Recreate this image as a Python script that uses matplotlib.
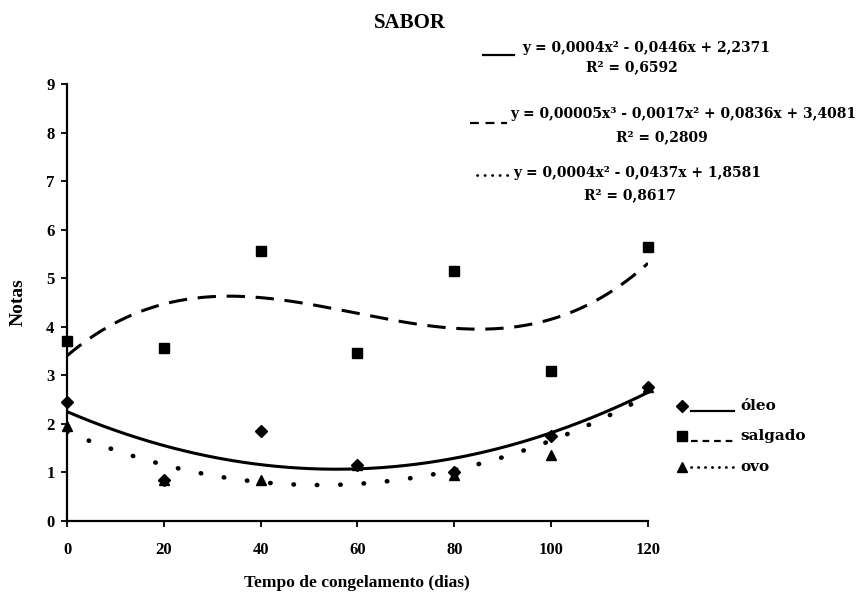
import numpy as np
import matplotlib
matplotlib.use("Agg")
import matplotlib.pyplot as plt
from matplotlib.lines import Line2D

plt.rcParams['font.family'] = ['Liberation Serif', 'DejaVu Serif']
plt.rcParams['font.weight'] = 'bold'
WIDE = ['DejaVu Serif', 'Liberation Serif']

dias = [0, 20, 40, 60, 80, 100, 120]
oleo = [2.45, 0.85, 1.85, 1.15, 1.0, 1.75, 2.75]
salgado = [3.7, 3.57, 5.56, 3.47, 5.15, 3.08, 5.65]
ovo = [1.95, 0.85, 0.85, 1.15, 0.95, 1.35, 2.75]

series_names = ['óleo', 'salgado', 'ovo']
fit_degree = [2, 3, 2]
equations = ['y = 0,0004x² - 0,0446x + 2,2371',
             'y = 0,00005x³ - 0,0017x² + 0,0836x + 3,4081',
             'y = 0,0004x² - 0,0437x + 1,8581']
r2_texts = ['R² = 0,6592', 'R² = 0,2809', 'R² = 0,8617']

yticks = list(range(0, 10))
xticks = [0, 20, 40, 60, 80, 100, 120]

W, H = 862, 596
fig = plt.figure(figsize=(W / 100, H / 100), dpi=100)
ax = fig.add_axes([67 / W, 1 - 521 / H, (648 - 67) / W, (521 - 84) / H])

markers = ['D', 's', '^']
msizes = [6.5, 6.5, 7.5]
lstyles = ['-', (0, (6, 3.5)), (0, (0.1, 5.0))]
caps = ['butt', 'butt', 'round']
lwidths = [2.2, 2.2, 3.3]

xs = np.linspace(0, 120, 300)
for vals, deg, mk, ms, ls, lw, cap in zip([oleo, salgado, ovo], fit_degree,
                                          markers, msizes, lstyles, lwidths, caps):
    coef = np.polyfit(dias, vals, deg)
    ax.plot(xs, np.polyval(coef, xs), color='black', linestyle=ls, linewidth=lw,
            solid_capstyle='butt', dash_capstyle=cap, zorder=2)
    ax.plot(dias, vals, linestyle='none', marker=mk, markersize=ms, color='black',
            clip_on=False, zorder=3)

ax.set_xlim(0, 120)
ax.set_ylim(0, 9)
ax.set_xticks(xticks)
ax.set_yticks(yticks)
for s in ['top', 'right']:
    ax.spines[s].set_visible(False)
for s in ['left', 'bottom']:
    ax.spines[s].set_linewidth(1.6)
ax.tick_params(direction='out', length=4, width=1.3, labelsize=12)
ax.tick_params(axis='x', pad=11)
ax.tick_params(axis='y', pad=5)
for lab in ax.get_xticklabels() + ax.get_yticklabels():
    lab.set_fontweight('bold')

fig.text(18 / W, 1 - 302 / H, 'Notas', rotation=90, ha='center', va='center',
         fontsize=14, fontweight='bold')
fig.text(357 / W, 1 - 583 / H, 'Tempo de congelamento (dias)', ha='center', va='center',
         fontsize=12.5, fontweight='bold')
fig.text(410 / W, 1 - 23 / H, 'SABOR', ha='center', va='center', fontsize=15, fontweight='bold')

# legend (marker, line sample, label)
leg_y = [406, 436, 467]
leg_ls = ['-', (0, (3, 2.2)), (0, (0.1, 2.4))]
for i in range(3):
    yy = 1 - leg_y[i] / H
    fig.add_artist(Line2D([682 / W], [yy], marker=markers[i], markersize=msizes[i],
                          color='black', linestyle='none', transform=fig.transFigure))
    fig.add_artist(Line2D([691 / W, 734 / W], [yy - 5 / H if i < 2 else yy, yy - 5 / H if i < 2 else yy],
                          color='black', linestyle=leg_ls[i], linewidth=1.6 if i < 2 else 2.0,
                          dash_capstyle=caps[i], transform=fig.transFigure))
    fig.text(740 / W, yy, series_names[i], ha='left', va='center',
             family=WIDE, fontsize=11, fontweight='bold')

# equation block
eq_y = [48, 114, 173]
r2_y = [67, 137, 195]
r2_x = [632, 662, 630]
sample_x = [(483, 514), (470, 507), (477, 511)]
sample_dy = [7, 9, 2]
text_x = [522, 510, 513]
sample_ls = ['-', (0, (4, 3)), (0, (0.1, 2.6))]
for i in range(3):
    yy = 1 - (eq_y[i] + sample_dy[i]) / H
    fig.add_artist(Line2D([sample_x[i][0] / W, sample_x[i][1] / W], [yy, yy], color='black',
                          linestyle=sample_ls[i], linewidth=1.6 if i < 2 else 2.0,
                          dash_capstyle=caps[i], transform=fig.transFigure))
    fig.text(text_x[i] / W, 1 - eq_y[i] / H, equations[i], ha='left', va='center',
             family=WIDE, fontsize=10, fontweight='bold')
    fig.text(r2_x[i] / W, 1 - r2_y[i] / H, r2_texts[i], ha='center', va='center',
             family=WIDE, fontsize=10, fontweight='bold')

fig.savefig('out.png', dpi=100)
